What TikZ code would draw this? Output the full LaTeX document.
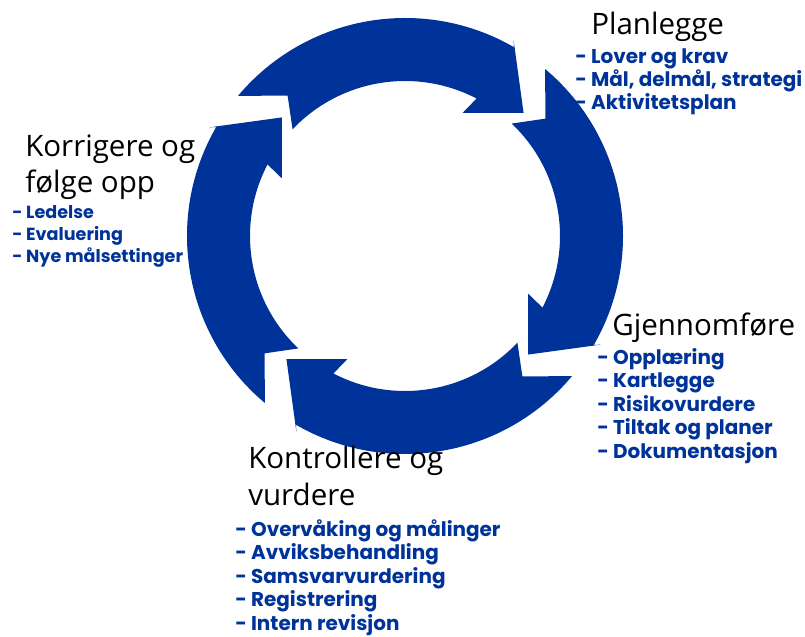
\documentclass[tikz,border=0pt]{standalone}
\usepackage{fontspec}
\setmainfont{Open Sans}
\newfontfamily\listfont{Poppins}
\usepackage{xcolor}
\usetikzlibrary{positioning}

\definecolor{cycleblue}{HTML}{003399}

\begin{document}
\begin{tikzpicture}[
    x=0.025cm, y=0.025cm,
    every node/.style={inner sep=0pt, anchor=base west, align=left},
    stage/.style={font=\fontsize{21}{26.3}\selectfont},
    items/.style={text=cycleblue, font=\listfont\bfseries\fontsize{14.2}{16.6}\selectfont},
    smallitems/.style={text=cycleblue, font=\listfont\bfseries\fontsize{12.5}{15.3}\selectfont},
    cyclearrow/.pic={
        \fill[cycleblue] (140:218) arc[start angle=140, end angle=60, radius=218]
            -- (61:224) -- (46.1:171) -- (64.9:136) -- (62.5:155)
            arc[start angle=62.5, end angle=136.5, radius=155]
            -- (129.9:183) -- cycle;
    }
]
\useasboundingbox (0,0) rectangle (805,-637);

% Four arrows of the cycle
\begin{scope}[shift={(405,-236)}, yscale=0.93]
\pic at (0,0) {cyclearrow};
\pic[rotate=-90] at (0,0) {cyclearrow};
\pic[rotate=-180] at (0,0) {cyclearrow};
\pic[rotate=-270] at (0,0) {cyclearrow};
\end{scope}

% Stage titles (base = baseline of the last line)
\node[stage] (plan)  at (591,-35)  {Planlegge};
\node[stage] (gjen)  at (612,-335) {Gjennomføre};
\node[stage] (kontr) at (248,-505) {Kontrollere og\\vurdere};
\node[stage] (korr)  at (25,-193)  {Korrigere og\\følge opp};

% Item lists under each title
\node[items] (planlist) at (575,-110)
    {- Lover og krav\\- Mål, delmål, strategi\\- Aktivitetsplan};
\node[items] (gjenlist) at (597,-458)
    {- Opplæring\\- Kartlegge\\- Risikovurdere\\- Tiltak og planer\\- Dokumentasjon};
\node[items] (kontrlist) at (235,-630)
    {- Overvåking og målinger\\- Avviksbehandling\\- Samsvarvurdering\\- Registrering\\- Intern revisjon};
\node[smallitems] (korrlist) at (12,-262)
    {- Ledelse\\- Evaluering\\- Nye målsettinger};

\end{tikzpicture}
\end{document}
